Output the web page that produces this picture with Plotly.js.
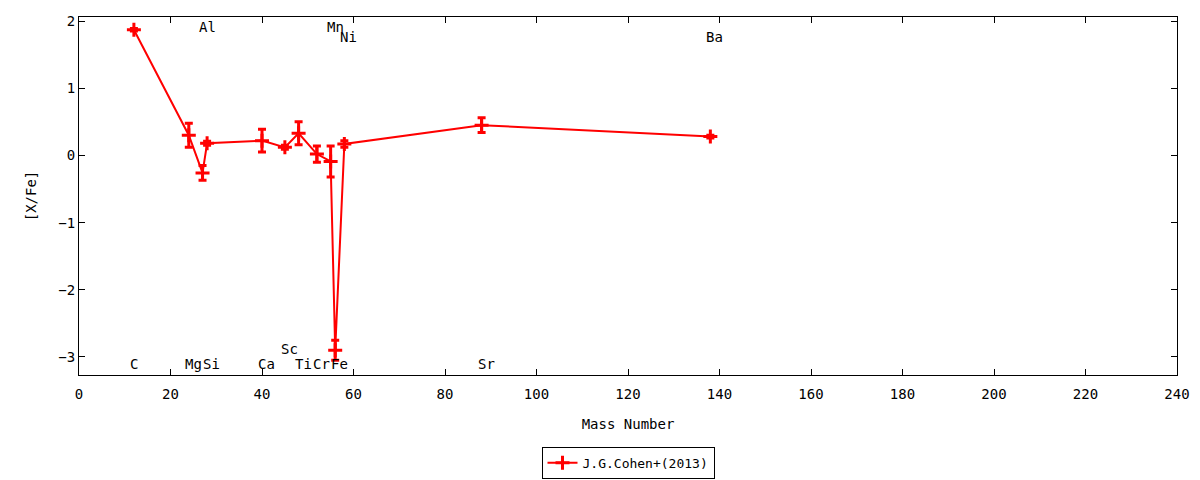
<!DOCTYPE html>
<html>
<head>
<meta charset="utf-8">
<script src="https://cdn.plot.ly/plotly-3.0.1.min.js"></script>
<style>html,body{margin:0;padding:0;background:#fff;}#chart{width:1200px;height:480px;}</style>
</head>
<body>
<div id="chart"></div>
<script>
// Data
const elements = ["C","Mg","Al","Si","Ca","Sc","Ti","Cr","Mn","Fe","Ni","Sr","Ba"];
const massNumber = [12, 24, 27, 28, 40, 45, 48, 52, 55, 56, 58, 88, 138];
const xFe = [1.87, 0.30, -0.26, 0.18, 0.22, 0.12, 0.33, 0.02, -0.09, -2.90, 0.17, 0.45, 0.28];
const xFeErr = [0.02, 0.18, 0.11, 0.03, 0.17, 0.03, 0.17, 0.12, 0.23, 0.15, 0.05, 0.11, 0.02];

// Element label placement (mass position, y value)
const labelText = ["C","Mg","Al","Si","Ca","Sc","Ti","Cr","Mn","Fe","Ni","Sr","Ba"];
const labelX = [12, 24, 27, 28, 40, 45, 48, 52, 55, 56, 58, 88, 138];
const labelY = [-3.10, -3.10, 1.91, -3.10, -3.10, -2.88, -3.10, -3.10, 1.91, -3.10, 1.76, -3.10, 1.76];

const fontFam = "DejaVu Sans Mono, monospace";

const trace = {
  x: massNumber,
  y: xFe,
  text: elements,
  type: "scatter",
  mode: "lines+markers",
  name: "J.G.Cohen+(2013)",
  line: {color: "#ff0000", width: 2},
  marker: {symbol: "cross-thin", size: 10, color: "#ff0000", line: {color: "#ff0000", width: 3}},
  error_y: {type: "data", array: xFeErr, visible: true, color: "#ff0000", thickness: 3, width: 4}
};

const annotations = labelText.map((t, i) => ({
  x: labelX[i], y: labelY[i], xref: "x", yref: "y",
  text: t, showarrow: false, xanchor: "left", yanchor: "middle", xshift: -6,
  font: {family: fontFam, size: 14, color: "#000"}
}));

const axisCommon = {
  showline: true, linecolor: "#000", linewidth: 1, mirror: "allticks",
  ticks: "inside", ticklen: 6, tickwidth: 1, tickcolor: "#000",
  showgrid: false, zeroline: false, automargin: false,
  tickfont: {family: fontFam, size: 14, color: "#000"}
};

const layout = {
  width: 1200, height: 480,
  margin: {l: 79, r: 23, t: 17, b: 105},
  paper_bgcolor: "#fff", plot_bgcolor: "#fff",
  font: {family: fontFam, size: 14, color: "#000"},
  xaxis: Object.assign({}, axisCommon, {
    range: [0, 240], dtick: 20, tick0: 0, ticklabelstandoff: 6,
    title: {text: "Mass Number", font: {family: fontFam, size: 14, color: "#000"}, standoff: 18}
  }),
  yaxis: Object.assign({}, axisCommon, {
    range: [-3.268, 2.06], dtick: 1, tick0: 0,
    title: {text: "[X/Fe]", font: {family: fontFam, size: 14, color: "#000"}, standoff: 18}
  }),
  showlegend: true,
  legend: {
    orientation: "h", x: 0.5, xanchor: "center",
    yref: "container", y: 0.036, yanchor: "middle",
    bordercolor: "#000", borderwidth: 1, bgcolor: "#fff",
    font: {family: fontFam, size: 13, color: "#000"}
  },
  annotations: annotations
};

Plotly.newPlot("chart", [trace], layout, {displayModeBar: false, staticPlot: true});
</script>
</body>
</html>
